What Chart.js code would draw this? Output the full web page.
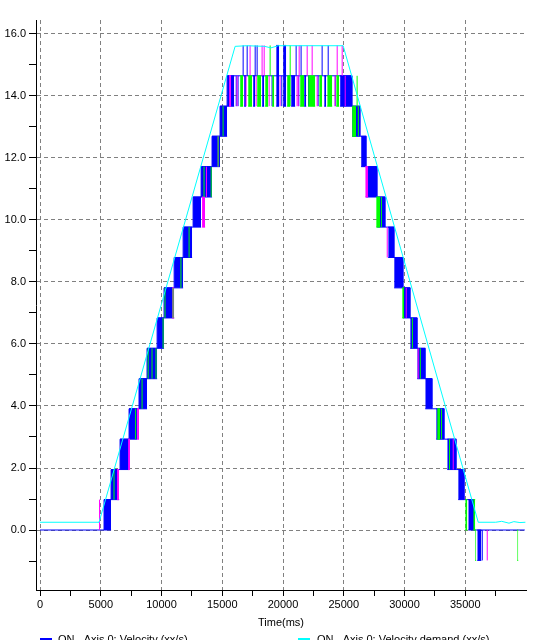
<!DOCTYPE html>
<html>
<head>
<meta charset="utf-8">
<script src="https://cdn.jsdelivr.net/npm/chart.js@4.4.1/dist/chart.umd.min.js"></script>
<style>
  body { margin: 0; background: #fff; overflow: hidden; }
  #wrap { position: relative; width: 542px; height: 640px; }
  .lg { position: absolute; top: 633px; font: 11px 'Liberation Sans', Arial, sans-serif; line-height: 13px; color: #000; white-space: nowrap; }
  .sw { position: absolute; top: 638px; width: 12px; height: 2px; }
</style>
</head>
<body>
<div id="wrap">
  <canvas id="myChart" width="542" height="640"></canvas>
  <div class="sw" style="left:40px;background:#0000ff"></div>
  <div class="lg" style="left:58px">ON - Axis 0: Velocity (xx/s)</div>
  <div class="sw" style="left:298px;background:#00ffff"></div>
  <div class="lg" style="left:317px">ON - Axis 0: Velocity demand (xx/s)</div>
</div>
<script>
// axis ticks (major ones get labels + grid)
var timeTicks = [0, 2500, 5000, 7500, 10000, 12500, 15000, 17500, 20000, 22500, 25000, 27500, 30000, 32500, 35000, 37500];
var velTicks = [-1, 0, 1, 2, 3, 4, 5, 6, 7, 8, 9, 10, 11, 12, 13, 14, 15, 16];

// quantised velocity levels, index = step + 1
var levels = [-0.98, 0.00, 0.98, 1.95, 2.93, 3.91, 4.88, 5.86, 6.84, 7.81, 8.79, 9.77,
              10.74, 11.72, 12.70, 13.67, 14.65, 15.63];

// velocity demand [time ms, value]
var demand = [[0, 0.25], [4860, 0.25], [16060, 15.60], [17000, 15.62], [18500, 15.60], [19000, 15.55],
              [19600, 15.62], [22000, 15.62], [24950, 15.62], [36070, 0.25], [37500, 0.25], [38000, 0.28],
              [38600, 0.22], [39000, 0.27], [39500, 0.24], [39950, 0.25]];

// velocity (blue): step line [time, step], dither blocks [t0, t1, stepLo, stepHi], spikes [t, stepLo, stepHi]
var blueLine = [[0, 0], [5270, 1], [5850, 2], [6590, 3], [7330, 4], [8150, 5], [8810, 6], [9640, 7],
                [10210, 8], [11040, 9], [11780, 10], [12600, 11], [13260, 12], [14160, 13], [14820, 14],
                [15400, 15], [25690, 14], [26350, 13], [26850, 12], [27750, 11], [28410, 10], [29150, 9],
                [29890, 8], [30470, 7], [31050, 6], [31710, 5], [32280, 4], [33270, 3], [34260, 2],
                [34920, 1], [35740, 0], [39900, 0]];
var blueBlocks = [[5270, 5850, 0, 1], [5850, 6510, 1, 2], [6590, 7330, 2, 3], [7330, 7990, 3, 4],
                  [8150, 8810, 4, 5], [8810, 9640, 5, 6], [9640, 10210, 6, 7], [10210, 11040, 7, 8],
                  [11040, 11780, 8, 9], [11780, 12520, 9, 10], [12600, 13260, 10, 11], [13260, 14160, 11, 12],
                  [14160, 14820, 12, 13], [14820, 15400, 13, 14], [15400, 15980, 14, 15],
                  [16800, 16960, 14, 15], [17540, 17710, 14, 15], [18280, 18450, 14, 15], [19440, 19680, 14, 16],
                  [20010, 20260, 14, 16], [20670, 21000, 14, 15], [21740, 21910, 14, 15], [23390, 23550, 14, 15],
                  [24700, 25690, 14, 15], [25690, 26350, 13, 14], [26430, 26850, 12, 13], [26850, 27750, 11, 12],
                  [27750, 28410, 10, 11], [28660, 29150, 9, 10], [29150, 29890, 8, 9], [29890, 30470, 7, 8],
                  [30470, 31050, 6, 7], [31050, 31710, 5, 6], [31710, 32280, 4, 5], [32610, 33270, 3, 4],
                  [33520, 34260, 2, 3], [34420, 34920, 1, 2], [35250, 35740, 0, 1], [35990, 36320, -1, 0]];
var blueSpikes = [[16150, 14, 15], [16300, 14, 15], [16600, 14, 15], [16720, 15, 16], [17050, 15, 16],
                  [17300, 14, 15], [17710, 15, 16], [17870, 15, 16], [18000, 14, 15], [18700, 14, 15],
                  [19100, 14, 15], [19900, 14, 15], [20500, 14, 15], [21080, 15, 16], [21300, 14, 15],
                  [21490, 15, 16], [22100, 14, 15], [22500, 14, 15], [22890, 14, 15], [23220, 15, 16],
                  [23720, 15, 16], [23900, 14, 15], [24300, 14, 15], [36400, -1, 0]];

// magenta trace
var magentaBlocks = [[6340, 6510, 1, 2], [7250, 7410, 2, 3], [7990, 8150, 3, 4], [10870, 11040, 7, 8],
                     [13340, 13590, 10, 11], [15560, 15730, 14, 15], [26770, 27010, 11, 12]];
var magentaSpikes = [[4900, 0, 1], [13700, 11, 12], [14660, 12, 13], [16220, 14, 15], [16960, 14, 15],
                     [17290, 15, 16], [17790, 14, 15], [18280, 15, 16], [18450, 15, 16], [18860, 14, 15],
                     [19760, 14, 15], [20420, 14, 15], [21160, 14, 15], [21250, 14, 15], [21330, 15, 16],
                     [21990, 15, 16], [22400, 15, 16], [22810, 14, 15], [24290, 14, 15], [24460, 15, 16],
                     [24870, 15, 16], [25120, 14, 15], [28580, 9, 10], [30140, 7, 8], [31130, 5, 6],
                     [34010, 2, 3], [36810, -1, 0]];

// green trace
var greenBlocks = [[16470, 16720, 14, 15], [17130, 17460, 14, 15], [17870, 18200, 14, 15], [18530, 18780, 14, 15],
                   [19110, 19270, 14, 15], [20340, 20590, 14, 15], [21410, 21740, 14, 15], [22070, 22650, 14, 15],
                   [22980, 23220, 14, 15], [23640, 24050, 14, 15], [24380, 24620, 14, 15], [25690, 26020, 13, 14],
                   [27670, 28000, 10, 11], [29810, 29980, 7, 8], [32690, 32940, 3, 4], [35000, 35170, 0, 1],
                   [35660, 35820, 0, 1], [35820, 35900, -1, 0], [39280, 39360, -1, 0]];
var greenSpikes = [[6090, 1, 2], [7870, 3, 4], [8400, 4, 5], [8900, 5, 6], [9220, 5, 6], [9550, 5, 6],
                   [10130, 6, 7], [10290, 7, 8], [10950, 7, 8], [11600, 8, 9], [12270, 9, 10], [13500, 11, 12],
                   [14090, 11, 12], [14660, 12, 13], [15070, 13, 14], [18940, 15, 16], [20590, 14, 16],
                   [26100, 14, 15], [26200, 13, 14], [28100, 10, 11], [30650, 6, 7], [31300, 5, 6],
                   [33050, 3, 4], [33700, 2, 3]];

function lvl(k) { return levels[k + 1]; }

function stepPoints(list) {
    return list.map(function (p) { return {x: p[0], y: lvl(p[1])}; });
}
function blockEdge(list, i) {
    var out = [];
    list.forEach(function (b) {
        out.push({x: b[0], y: lvl(b[i])}, {x: b[1], y: lvl(b[i])}, {x: b[1], y: null});
    });
    return out;
}
function spikePoints(list) {
    var out = [];
    list.forEach(function (s) {
        out.push({x: s[0], y: lvl(s[1])}, {x: s[0], y: lvl(s[2])}, {x: s[0], y: null});
    });
    return out;
}
function trace(color, line, blocks, spikes, order) {
    var sets = [];
    if (line) sets.push({data: stepPoints(line), borderColor: color, stepped: true, order: order});
    sets.push({data: spikePoints(spikes), borderColor: color, order: order});
    sets.push({data: blockEdge(blocks, 3), borderColor: color, backgroundColor: color, fill: '+1', order: order});
    sets.push({data: blockEdge(blocks, 2), borderColor: color, order: order});
    return sets;
}

var datasets = [{
    data: demand.map(function (p) { return {x: p[0], y: p[1]}; }),
    borderColor: '#00ffff', order: 0
}].concat(
    trace('#00ff00', null, greenBlocks, greenSpikes, 1),
    trace('#ff00ff', null, magentaBlocks, magentaSpikes, 2),
    trace('#0000ff', blueLine, blueBlocks, blueSpikes, 3)
);

Chart.defaults.font.family = "'Liberation Sans', Arial, sans-serif";
Chart.defaults.font.size = 11;
Chart.defaults.color = '#000';

var ctx = document.getElementById("myChart").getContext('2d');
var velChart = new Chart(ctx, {
    type: 'line',
    data: {datasets: datasets},
    options: {
        responsive: false,
        animation: false,
        layout: {padding: {top: 20, right: 16, left: 0, bottom: 0}},
        elements: {
            point: {radius: 0},
            line: {borderWidth: 1, fill: false, tension: 0}
        },
        plugins: {legend: {display: false}, tooltip: {enabled: false}},
        scales: {
            x: {
                type: 'linear', min: -330, max: 40000,
                afterFit: function (s) { s.height = 50; },
                afterBuildTicks: function (s) { s.ticks = timeTicks.map(function (v) { return {value: v}; }); },
                ticks: {
                    autoSkip: false, maxRotation: 0, padding: 2,
                    callback: function (v) { return v % 5000 === 0 ? String(v) : ''; }
                },
                grid: {
                    color: function (c) { return c.tick && c.tick.value % 5000 === 0 ? '#808080' : 'rgba(0,0,0,0)'; },
                    tickColor: '#000', tickLength: 6, tickBorderDash: []
                },
                border: {color: '#000', dash: [4, 3]},
                title: {display: true, text: 'Time(ms)', padding: {top: 2, bottom: 10}}
            },
            y: {
                type: 'linear', min: -1.935, max: 16.45,
                afterFit: function (s) { s.width = 36; },
                afterBuildTicks: function (s) { s.ticks = velTicks.map(function (v) { return {value: v}; }); },
                ticks: {
                    autoSkip: false, padding: 3,
                    callback: function (v) { return v % 2 === 0 ? v.toFixed(1) : ''; }
                },
                grid: {
                    color: function (c) { return c.tick && c.tick.value % 2 === 0 ? '#808080' : 'rgba(0,0,0,0)'; },
                    tickColor: '#000', tickLength: 7, tickBorderDash: []
                },
                border: {color: '#000', dash: [4, 3]}
            }
        }
    }
});
</script>
</body>
</html>
